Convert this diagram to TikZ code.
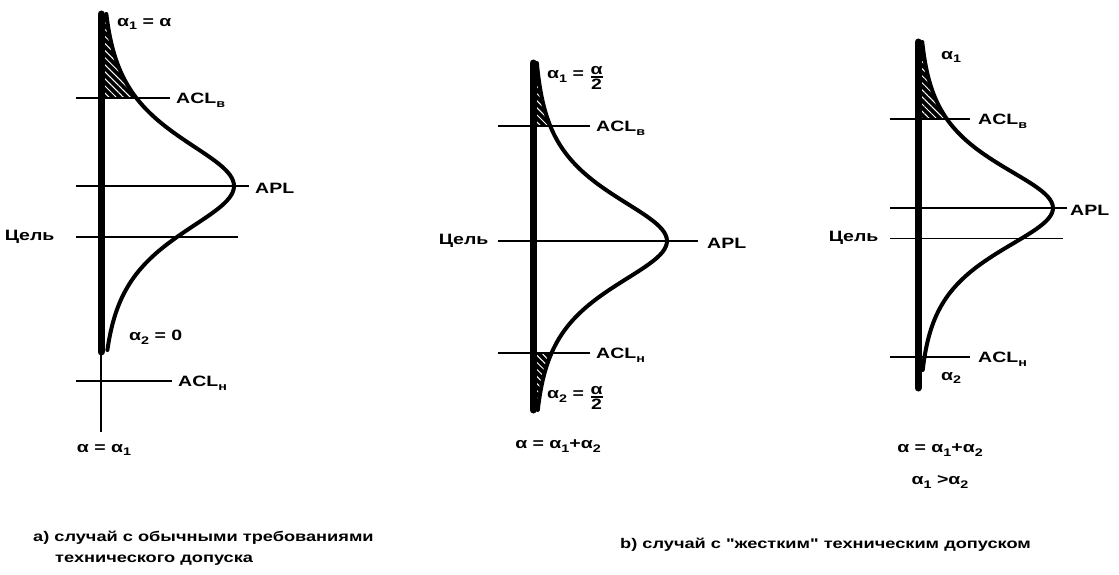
\documentclass[tikz,border=0pt]{standalone}
\usepackage{fontspec}
\usepackage{amsmath}
\setmainfont{Liberation Sans}[FakeStretch=1.3]
\newfontfamily\plainfont{Liberation Sans}[FakeStretch=1.3]
\usetikzlibrary{patterns.meta}

\newcommand{\halfalpha}{\raisebox{-0.2ex}{$\genfrac{}{}{1.4pt}{}{\hbox{\bfseries\fontsize{15}{16}\selectfont α}}{\hbox{\bfseries\fontsize{15}{16}\selectfont 2}}$}}
\newcommand{\sub}[1]{\raisebox{-0.45ex}{\fontsize{11}{12}\selectfont #1}}

\begin{document}
\begin{tikzpicture}[x=1pt, y=-1pt,
    font=\bfseries\fontsize{15}{17}\selectfont,
    axisline/.style={line width=7pt, line cap=round},
    thinaxis/.style={line width=1.2pt},
    level/.style={line width=2.8pt},
    thinlevel/.style={line width=1pt},
    curve/.style={line width=4pt, line join=round, line cap=round},
    hatch/.style={pattern={Lines[angle=-45, distance=5pt, line width=1pt]}, pattern color=white},
    lbl/.style={anchor=west, inner sep=1pt},
    caption/.style={anchor=west, inner sep=0pt, font=\bfseries\fontsize{14}{16}\selectfont}
  ]
  \useasboundingbox (0,0) rectangle (1119,575);

  % a) ordinary tolerance
  \coordinate (aTop) at (101,14);
  \coordinate (aEnd) at (101,352);
  \coordinate (aFoot) at (101,432);
  \fill (aTop) -- plot[domain=14:98, samples=40] ({101+133/cosh((\x-186)/44)}, \x) -- (101,98) -- cycle;
  \fill[hatch] (aTop) -- plot[domain=14:98, samples=40] ({101+133/cosh((\x-186)/44)}, \x) -- (101,98) -- cycle;
  \draw[curve] plot[domain=14:350, samples=120] ({101+133/cosh((\x-186)/44)}, \x);
  \draw[thinaxis] (aEnd) -- (aFoot);
  \draw[axisline] (aTop) -- (aEnd);
  \draw[level] (76,98) coordinate (aHiL) -- (170,98) coordinate (aHiR);
  \draw[level] (76,186) coordinate (aAplL) -- (249,186) coordinate (aAplR);
  \draw[level] (76,237) coordinate (aTgtL) -- (238,237) coordinate (aTgtR);
  \draw[level] (76,381) coordinate (aLoL) -- (172,381) coordinate (aLoR);
  \node[lbl] (aHi) at ([xshift=5pt, yshift=-2pt]aHiR) {ACL\sub{в}};
  \node[lbl] (aApl) at ([xshift=5pt, yshift=-2pt]aAplR) {APL};
  \node[anchor=east] (aTgt) at ([xshift=-18pt]aTgtL) {Цель};
  \node[lbl] (aLo) at ([xshift=5pt, yshift=-2pt]aLoR) {ACL\sub{н}};
  \node[lbl] (aA1) at (116,24) {α\sub{1} = α};
  \node[lbl] (aA2) at (128,337) {α\sub{2} = 0};
  \node (aSum) at (104,450) {α = α\sub{1}};

  % b) tight tolerance, symmetric
  \coordinate (bTop) at (533,63);
  \coordinate (bEnd) at (533,410);
  \foreach \lo/\hi in {63/126, 353/410}
    \fill (533,\lo) -- plot[domain=\lo:\hi, samples=40] ({533+134/cosh((\x-241)/42)}, \x) -- (533,\hi) -- cycle;
  \foreach \lo/\hi in {63/126, 353/410}
    \fill[hatch] (533,\lo) -- plot[domain=\lo:\hi, samples=40] ({533+134/cosh((\x-241)/42)}, \x) -- (533,\hi) -- cycle;
  \draw[curve] plot[domain=63:410, samples=120] ({533+134/cosh((\x-241)/42)}, \x);
  \draw[axisline] (bTop) -- (bEnd);
  \draw[level] (498,126) coordinate (bHiL) -- (590,126) coordinate (bHiR);
  \draw[level] (498,241) coordinate (bAplL) -- (698,241) coordinate (bAplR);
  \draw[level] (498,353) coordinate (bLoL) -- (590,353) coordinate (bLoR);
  \node[lbl] (bHi) at ([xshift=5pt, yshift=-2pt]bHiR) {ACL\sub{в}};
  \node[lbl] (bApl) at ([xshift=8pt, yshift=-2pt]bAplR) {APL};
  \node[anchor=east] (bTgt) at ([xshift=-6pt]bAplL) {Цель};
  \node[lbl] (bLo) at ([xshift=5pt, yshift=-2pt]bLoR) {ACL\sub{н}};
  \node[lbl] (bA1) at (546,78) {α\sub{1} = \halfalpha};
  \node[lbl] (bA2) at (546,398) {α\sub{2} = \halfalpha};
  \node (bSum) at (558,446) {α = α\sub{1}+α\sub{2}};

  % b) tight tolerance, shifted
  \coordinate (cTop) at (918,42);
  \coordinate (cEnd) at (918,388);
  \fill (cTop) -- plot[domain=42:119, samples=40] ({918+135/cosh((\x-208)/39)}, \x) -- (918,119) -- cycle;
  \fill[hatch] (cTop) -- plot[domain=42:119, samples=40] ({918+135/cosh((\x-208)/39)}, \x) -- (918,119) -- cycle;
  \draw[curve] plot[domain=42:370, samples=120] ({918+135/cosh((\x-208)/40)}, \x);
  \draw[axisline] (cTop) -- (cEnd);
  \draw[level] (890,119) coordinate (cHiL) -- (970,119) coordinate (cHiR);
  \draw[level] (890,208) coordinate (cAplL) -- (1067,208) coordinate (cAplR);
  \draw[thinlevel] (890,238) coordinate (cTgtL) -- (1063,238) coordinate (cTgtR);
  \draw[level] (890,357) coordinate (cLoL) -- (970,357) coordinate (cLoR);
  \node[lbl] (cHi) at ([xshift=7pt, yshift=-2pt]cHiR) {ACL\sub{в}};
  \node[lbl] (cApl) at ([xshift=2pt, yshift=-2pt]cAplR) {APL};
  \node[anchor=east] (cTgt) at ([xshift=-8pt]cTgtL) {Цель};
  \node[lbl] (cLo) at ([xshift=7pt, yshift=-2pt]cLoR) {ACL\sub{н}};
  \node[lbl] (cA1) at (940,57) {α\sub{1}};
  \node[lbl] (cA2) at (940,378) {α\sub{2}};
  \node (cSum) at (940,450) {α = α\sub{1}+α\sub{2}};
  \node (cRel) at (940,482) {α\sub{1} >α\sub{2}};

  % captions
  \node[caption] (capA1) at (33,538) {а) случай с обычными требованиями};
  \node[caption] (capA2) at (55,560) {технического допуска};
  \node[caption] (capB) at (620,545) {b) случай с {\plainfont"}жестким{\plainfont"} техническим допуском};
\end{tikzpicture}
\end{document}
